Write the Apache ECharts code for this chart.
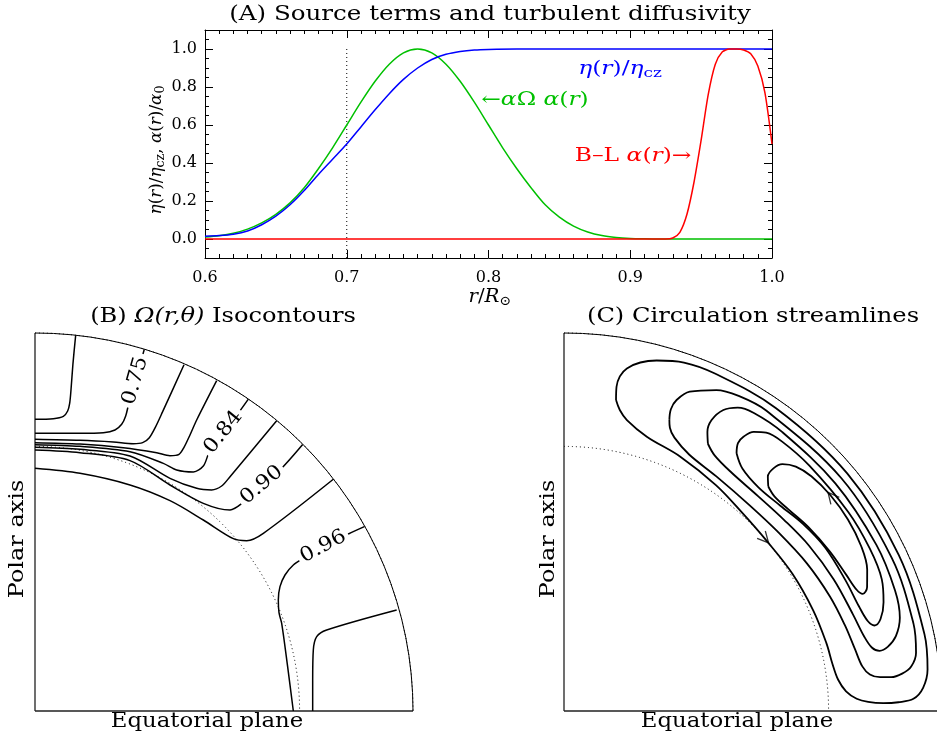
<!DOCTYPE html>
<html><head><meta charset="utf-8">
<script src="https://cdn.jsdelivr.net/npm/echarts@6/dist/echarts.min.js"></script>
<style>html,body{margin:0;padding:0;background:#fff}#c{width:937px;height:741px}</style>
</head><body><div id="c"></div>
<script>
// ---------- Panel A data ----------
const yLabelsA = [0, 0.2, 0.4, 0.6, 0.8, 1.0];
const tachocline = 0.7;
const rEta = [0.60,0.61,0.62,0.63,0.64,0.65,0.66,0.67,0.68,0.69,0.70,0.71,0.72,0.73,0.74,0.75,0.76,0.77,0.78,0.79,0.80,0.82,0.85,0.90,0.95,1.00];
const eta  = [0.015,0.018,0.025,0.042,0.075,0.12,0.18,0.255,0.34,0.42,0.50,0.59,0.68,0.765,0.84,0.90,0.945,0.972,0.987,0.995,0.998,1.0,1.0,1.0,1.0,1.0];
const rAO = [0.60,0.61,0.62,0.63,0.64,0.65,0.66,0.67,0.68,0.69,0.70,0.71,0.72,0.73,0.74,0.75,0.76,0.77,0.78,0.79,0.80,0.81,0.82,0.83,0.84,0.85,0.86,0.87,0.88,0.89,0.90,0.91,0.92,0.95,1.00];
const alphaOmega = [0.010,0.017,0.030,0.052,0.085,0.13,0.19,0.27,0.37,0.48,0.60,0.72,0.83,0.92,0.98,1.0,0.98,0.92,0.83,0.72,0.60,0.48,0.37,0.27,0.18,0.115,0.068,0.037,0.018,0.008,0.003,0.001,0,0,0];
const rBL = [0.60,0.90,0.925,0.93,0.935,0.94,0.945,0.95,0.955,0.96,0.965,0.97,0.975,0.98,0.985,0.99,0.995,1.00];
const alphaBL = [0,0,0,0.005,0.035,0.13,0.30,0.52,0.76,0.92,0.985,1.0,1.0,0.995,0.975,0.91,0.77,0.50];
const annoTextA = ['{i|η}{n|(}{i|r}{n|)/}{i|η}{s|cz}', '{n|←}{i|α}{n|Ω }{i|α}{n|(}{i|r}{n|)}', '{n|B–L }{i|α}{n|(}{i|r}{n|)→}'];
const annoPosA = [[0.8928,0.894],[0.8328,0.730],[0.902,0.434]];
const annoColorA = ['#0000ff', '#00c000', '#ff0000'];

// ---------- Panel B: Omega isocontours (x = s/R, y = z/R) ----------
const contB1 = [[0,0.772],[0.0485,0.7734],[0.075,0.7795],[0.0864,0.7937],[0.0917,0.8139],[0.0952,0.8492],[0.1005,0.9198],[0.1076,0.994]];
const contB2 = [[0,0.7346],[0.119,0.7346],[0.1808,0.7363],[0.2116,0.7434],[0.2293,0.7584],[0.2399,0.7804],[0.2478,0.8122],[0.2654,0.8738],[0.2892,0.957]];
const contB3 = [[0,0.7187],[0.119,0.716],[0.2072,0.7116],[0.2601,0.7072],[0.2848,0.7099],[0.3025,0.7231],[0.3183,0.7504],[0.3377,0.7919],[0.3942,0.916]];
const contB4 = [[0,0.7099],[0.119,0.7063],[0.2337,0.6966],[0.3219,0.6834],[0.3571,0.6755],[0.381,0.679],[0.3942,0.6975],[0.41,0.7302],[0.4277,0.7698],[0.4806,0.8739]];
const contB5 = [[0,0.7046],[0.119,0.7002],[0.2513,0.6861],[0.3395,0.6552],[0.3748,0.6376],[0.419,0.6323],[0.4453,0.6481],[0.4586,0.6799],[0.4674,0.6993],[0.4982,0.7379],[0.5335,0.7822],[0.5644,0.825]];
const contB6 = [[0,0.6975],[0.119,0.6922],[0.2513,0.6746],[0.3571,0.6155],[0.4277,0.5891],[0.4674,0.5847],[0.4938,0.5952],[0.5159,0.6199],[0.6393,0.768]];
const contB7 = [[0,0.6905],[0.119,0.6834],[0.2513,0.6623],[0.3571,0.5979],[0.4453,0.5494],[0.5159,0.5317],[0.551,0.552],[0.5732,0.5758],[0.5996,0.5976],[0.6481,0.6376],[0.7081,0.705]];
const contB8 = [[0,0.642],[0.119,0.6287],[0.2513,0.5979],[0.3571,0.5564],[0.4453,0.5053],[0.5247,0.4559],[0.56,0.4506],[0.6041,0.47],[0.7892,0.613]];
const contB9 = [[0.8713,0.4877],[0.8289,0.4683],[0.7627,0.435],[0.7099,0.4039],[0.6834,0.3862],[0.6614,0.3598],[0.6481,0.3289],[0.6437,0.2937],[0.6455,0.26],[0.6526,0.232],[0.668,0.12],[0.6834,0]];
const contB10 = [[0.9568,0.2672],[0.7716,0.2143],[0.7452,0.1966],[0.7363,0.1614],[0.7346,0.08],[0.7346,0]];
const contoursB = [contB1, contB2, contB3, contB4, contB5, contB6, contB7, contB8, contB9, contB10];
const contourLabels = ['0.75', '0.84', '0.90', '0.96'];
const contourLabelPos = [[0.2654,0.8738],[0.4982,0.7379],[0.5996,0.5976],[0.7627,0.435]];
const contourLabelAngle = [74, 51, 40, 28];

// ---------- Panel C: streamlines, [r/R, colatitude deg] ----------
const loopC1 = [[0.834,9.5],[0.869,9.2],[0.9215,10.4],[0.959,14.8],[0.975,19],[0.978,24],[0.978,35],[0.978,50],[0.977,65],[0.975,78],[0.968,83.5],[0.952,86.3],[0.925,88.0],[0.885,88.5],[0.845,88.6],[0.805,88.3],[0.775,87.6],[0.748,86.0],[0.73,83.5],[0.721,80],[0.717,75.5],[0.711,68],[0.705,59],[0.700,50],[0.705,42],[0.72,34],[0.74,24.5],[0.758,16.8],[0.7875,12.2],[0.81,10.5],[0.834,9.5]];
const loopC2 = [[0.819,19.9],[0.847,19.5],[0.875,19.9],[0.908,21.5],[0.94,25.4],[0.953,29],[0.958,34],[0.958,50],[0.957,65],[0.953,76],[0.944,80.6],[0.926,82.7],[0.90,83.7],[0.87,84.1],[0.841,83.9],[0.815,83.2],[0.798,81.5],[0.787,78],[0.777,73],[0.766,66.7],[0.752,58.7],[0.738,50],[0.733,42],[0.740,33],[0.755,26],[0.78,22],[0.80,20.5],[0.819,19.9]];
const loopC3 = [[0.803,28.3],[0.83,27.2],[0.863,26.9],[0.901,27.9],[0.925,29.8],[0.935,32.5],[0.937,38],[0.937,50],[0.936,62],[0.932,70],[0.922,74.5],[0.90,77.3],[0.873,78.8],[0.85,79.2],[0.832,78.4],[0.818,76],[0.806,71.5],[0.794,64],[0.782,56],[0.771,49],[0.766,42],[0.771,35],[0.785,30.5],[0.803,28.3]];
const loopC4 = [[0.8206,33.8],[0.845,33.0],[0.867,33.2],[0.893,34.2],[0.91,36],[0.917,39],[0.918,45],[0.918,55],[0.916,62],[0.91,67.5],[0.893,71.2],[0.872,73.8],[0.852,74.6],[0.838,73.5],[0.828,70.5],[0.821,65],[0.815,58],[0.803,52],[0.789,46.5],[0.784,41],[0.796,36.4],[0.8206,33.8]];
const loopC5 = [[0.803,42.3],[0.822,41.0],[0.848,40.8],[0.872,41.5],[0.891,43.5],[0.902,46.5],[0.907,51],[0.906,56],[0.899,61],[0.885,65],[0.866,67.8],[0.849,68.6],[0.838,67.5],[0.829,64.2],[0.82,59],[0.809,53],[0.798,48],[0.795,44.5],[0.803,42.3]];
const loopsC = [loopC1, loopC2, loopC3, loopC4, loopC5];
const arrowsC = [[0.70,49.4],[0.907,51.3]];
const arrowAngles = [-48, 130];

const SERIF = '"DejaVu Serif", "Liberation Serif", serif';
const K = '#000';
const rich = (fs, color) => ({
  i: {fontFamily: SERIF, fontSize: fs, fontStyle: 'italic', fill: color, color: color, lineHeight: fs + 4},
  n: {fontFamily: SERIF, fontSize: fs, fill: color, color: color, lineHeight: fs + 4},
  s: {fontFamily: SERIF, fontSize: Math.round(fs * 0.72), fill: color, color: color, lineHeight: Math.round(fs * 0.72), verticalAlign: 'bottom'}
});

const chart = echarts.init(document.getElementById('c'), null, {renderer: 'canvas'});

const tickStyle = {color: K, width: 1};
const series = [];
// Panel A
series.push({type:'line', xAxisIndex:0, yAxisIndex:0, data: rAO.map((r,i)=>[r, alphaOmega[i]]), showSymbol:false, smooth:0.3, lineStyle:{color:'#00c000', width:1.5}, silent:true, z:3});
series.push({type:'line', xAxisIndex:0, yAxisIndex:0, data: rEta.map((r,i)=>[r, eta[i]]), showSymbol:false, smooth:0.3, lineStyle:{color:'#0000ff', width:1.5}, silent:true, z:4});
series.push({type:'line', xAxisIndex:0, yAxisIndex:0, data: rBL.map((r,i)=>[r, alphaBL[i]]), showSymbol:false, smooth:0.25, lineStyle:{color:'#ff0000', width:1.5}, silent:true, z:5});
series.push({type:'line', xAxisIndex:0, yAxisIndex:0, data: [[tachocline,-0.1],[tachocline,1.0]], showSymbol:false, lineStyle:{color:K, width:1, type:[1,3]}, silent:true, z:2});
// Panel B contours
contoursB.forEach(c => series.push({type:'line', xAxisIndex:2, yAxisIndex:4, data:c, showSymbol:false, smooth:0.3, lineStyle:{color:K, width:1.5}, silent:true, z:3}));
// Panel C streamlines
loopsC.forEach(c => series.push({type:'line', coordinateSystem:'polar', polarIndex:1, data:c, showSymbol:false, smooth:0.35, lineStyle:{color:K, width:1.8}, silent:true, z:3}));
series.push({type:'scatter', coordinateSystem:'polar', polarIndex:1, silent:true, z:6,
  symbol:'path://M0,0 L10,5 L0,10', symbolSize:[11,11], symbolKeepAspect:true,
  data: arrowsC.map((p,i)=>({value:p, symbolRotate: arrowAngles[i]})),
  itemStyle:{color:'rgba(0,0,0,0)', borderColor:K, borderWidth:1.3}
});

const yMajor = yLabelsA;
const option = {
  animation:false,
  backgroundColor:'#fff',
  grid:[
    {left:205, top:30, width:567, height:228},
    {left:35, top:333, width:378, height:378}
  ],
  xAxis:[
    {gridIndex:0, type:'value', min:0.6, max:1.0, interval:0.1, position:'bottom',
     axisLine:{show:true, onZero:false, lineStyle:{color:K, width:1}},
     axisTick:{show:true, inside:true, length:8, lineStyle:tickStyle},
     minorTick:{show:true, splitNumber:10, length:4, lineStyle:tickStyle},
     axisLabel:{color:K, fontFamily:SERIF, fontSize:16, margin:12, formatter:v=>v.toFixed(1)},
     splitLine:{show:false}, minorSplitLine:{show:false}},
    {gridIndex:0, type:'value', min:0.6, max:1.0, interval:0.1, position:'top',
     axisLine:{show:true, onZero:false, lineStyle:{color:K, width:1}},
     axisTick:{show:true, inside:true, length:8, lineStyle:tickStyle},
     minorTick:{show:true, splitNumber:10, length:4, lineStyle:tickStyle},
     axisLabel:{show:false}, splitLine:{show:false}},
    {gridIndex:1, type:'value', min:0, max:1, show:false}
  ],
  yAxis:[
    {gridIndex:0, type:'value', min:-0.1, max:1.1, interval:0.05, position:'left', offset:0,
     axisLine:{show:true, onZero:false, lineStyle:{color:K, width:1}},
     axisTick:{show:true, inside:true, length:4, lineStyle:tickStyle},
     axisLabel:{show:true, customValues:yMajor, color:K, fontFamily:SERIF, fontSize:16, margin:8, formatter:v=>v.toFixed(1)},
     splitLine:{show:false}},
    {gridIndex:0, type:'value', min:-0.1, max:1.1, position:'left', offset:0,
     axisLine:{show:false}, axisTick:{show:true, inside:true, length:8, customValues:yMajor, lineStyle:tickStyle},
     axisLabel:{show:false}, splitLine:{show:false}},
    {gridIndex:0, type:'value', min:-0.1, max:1.1, interval:0.05, position:'right', offset:0,
     axisLine:{show:true, onZero:false, lineStyle:{color:K, width:1}},
     axisTick:{show:true, inside:true, length:4, lineStyle:tickStyle},
     axisLabel:{show:false}, splitLine:{show:false}},
    {gridIndex:0, type:'value', min:-0.1, max:1.1, position:'right', offset:0,
     axisLine:{show:false}, axisTick:{show:true, inside:true, length:8, customValues:yMajor, lineStyle:tickStyle},
     axisLabel:{show:false}, splitLine:{show:false}},
    {gridIndex:1, type:'value', min:0, max:1, show:false}
  ],
  polar:[
    {center:[35,711], radius:378},
    {center:[564,711], radius:378}
  ],
  angleAxis:[0,1].map(i=>({polarIndex:i, type:'value', startAngle:90, endAngle:0, clockwise:true, min:0, max:90, interval:90,
     axisLine:{show:true, lineStyle:{color:K, width:1}}, axisTick:{show:false}, axisLabel:{show:false},
     splitLine:{show:true, lineStyle:{color:'#222', width:1.3}}})),
  radiusAxis:[0,1].map(i=>({polarIndex:i, type:'value', min:0, max:1, interval:tachocline,
     axisLine:{show:false}, axisTick:{show:false}, axisLabel:{show:false},
     splitLine:{show:true, lineStyle:{color:K, width:1, type:[1,3]}}})),
  series: series
};
chart.setOption(option);

// ---------- text (titles, axis names, in-plot annotations) ----------
const txt = (x, y, text, opt) => Object.assign({type:'text', x:x, y:y, silent:true, z:100,
  style: Object.assign({text:text, font:'21px '+SERIF, fill:K, align:'center', verticalAlign:'middle'}, opt && opt.style || {})},
  opt && opt.el || {});
const g = [
  txt(490, 15, '(A) Source terms and turbulent diffusivity', {el:{scaleX:1.17}}),
  txt(490, 297, '{i|r}{n|/}{i|R}{s|⊙}', {style:{rich:rich(18,K)}, el:{scaleX:1.1}}),
  txt(157, 150, '{i|η}{n|(}{i|r}{n|)/}{i|η}{s|cz}{n|, }{i|α}{n|(}{i|r}{n|)/}{i|α}{s|0}', {style:{rich:rich(16,K)}, el:{rotation:Math.PI/2, scaleX:1.05}}),
  txt(223, 317, '{n|(B) }{i|Ω(r,θ)}{n| Isocontours}', {style:{rich:rich(21,K)}, el:{scaleX:1.15}}),
  txt(753, 317, '(C) Circulation streamlines', {el:{scaleX:1.15}}),
  txt(18, 539, 'Polar axis', {style:{font:'20px '+SERIF}, el:{rotation:Math.PI/2, scaleX:1.2}}),
  txt(549, 539, 'Polar axis', {style:{font:'20px '+SERIF}, el:{rotation:Math.PI/2, scaleX:1.2}}),
  txt(207, 722, 'Equatorial plane', {style:{font:'20px '+SERIF}, el:{scaleX:1.14}}),
  txt(737, 722, 'Equatorial plane', {style:{font:'20px '+SERIF}, el:{scaleX:1.14}})
];
annoPosA.forEach((p, i) => {
  const px = chart.convertToPixel({xAxisIndex:0, yAxisIndex:0}, p);
  g.push(txt(px[0], px[1], annoTextA[i], {style:{rich:rich(18, annoColorA[i]), fill:annoColorA[i]}, el:{scaleX:1.3}}));
});
contourLabelPos.forEach((p, i) => {
  const px = chart.convertToPixel({xAxisIndex:2, yAxisIndex:4}, p);
  g.push(txt(px[0], px[1], contourLabels[i], {style:{font:'20px '+SERIF, backgroundColor:'#fff', padding:[0,3]}, el:{rotation:contourLabelAngle[i]*Math.PI/180, scaleX:1.1}}));
});
chart.setOption({graphic: g});
</script>
</body></html>
